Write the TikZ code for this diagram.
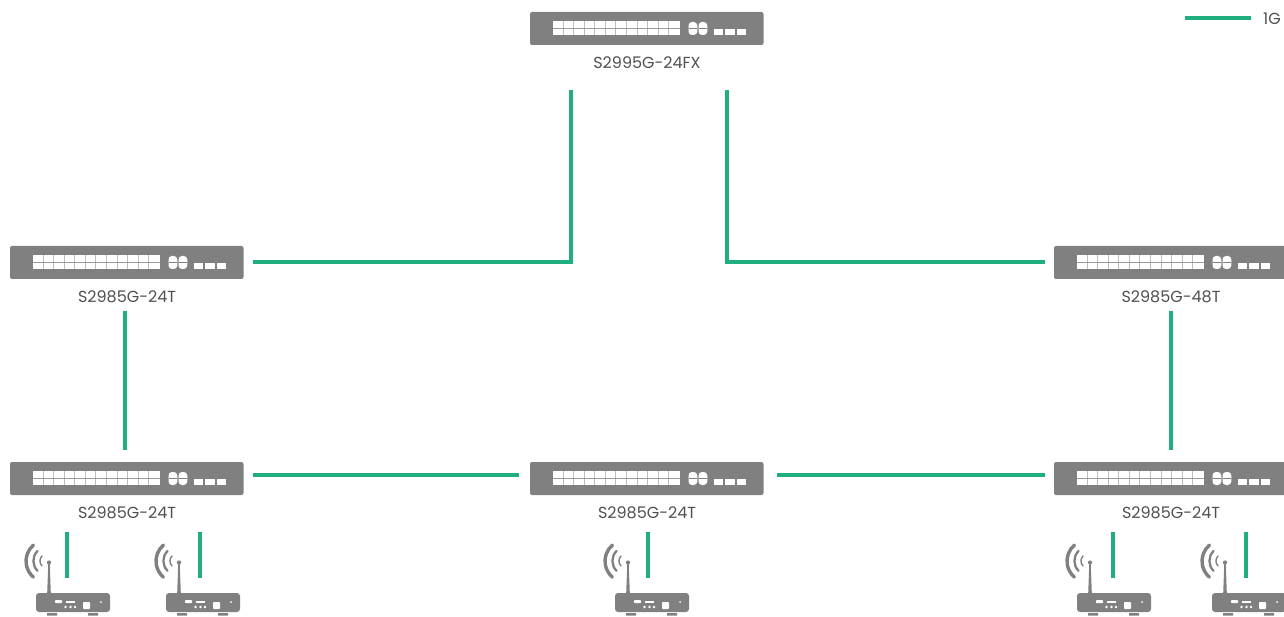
\documentclass[tikz,border=0pt]{standalone}
\usepackage{fontspec}
\setmainfont{Poppins}
\usetikzlibrary{calc}
\definecolor{devgray}{HTML}{808080}
\definecolor{gapgray}{HTML}{BDBDBD}
\definecolor{linkgreen}{HTML}{1FAE7F}
\definecolor{txtgray}{HTML}{505050}
\tikzset{
  x=1pt,y=-1pt,
  link/.style={draw=linkgreen,line width=4pt,line join=miter},
  lbl/.style={text=txtgray,font=\fontsize{16}{18}\selectfont,inner sep=0pt},
  devbody/.style={fill=devgray,draw=none,rounded corners=2pt},
  cell/.style={fill=white,draw=none},
  pics/switchpic/.style={code={
    \node[devbody,anchor=north west,minimum width=233.5pt,minimum height=33pt,inner sep=0pt,outer sep=0pt] (-body) at (0,0) {};
    \fill[cell] (22.5,9) rectangle (149.5,22.7);
    \foreach \c in {1,...,11}{
      \draw[gapgray,line width=1pt] ({22.5+\c*10.58},9) -- ++(0,13.7);
    }
    \draw[devgray!80!white,line width=1pt] (22.5,16.2) -- (149.5,16.2);
    \foreach \c in {158.5,168.5}{
      \fill[cell,rounded corners=3.5pt] (\c,10) rectangle ++(8.8,13);
      \draw[devgray,line width=.7pt] (\c,16.5) -- ++(8.8,0);
    }
    \foreach \c/\w in {183.5/9.5,195/9.5,206.5/9.5}{
      \fill[cell] (\c,17) rectangle ++(\w,6);
    }
    \node[lbl,anchor=center] (-label) at (117,51) {#1};
  }},
  pics/routerpic/.style={code={
    \node[devbody,rounded corners=3pt,anchor=north west,minimum width=74pt,minimum height=19pt,inner sep=0pt,outer sep=0pt] (-body) at (0,0) {};
    \fill[devgray] (11.2,0) -- (12.3,-30) -- (13.7,-30) -- (14.8,0) -- cycle;
    \fill[devgray] (13,-30.5) circle[radius=2.1pt];
    \draw[devgray,line width=3.4pt,line cap=round] (-2.5,-48) arc[start angle=130,end angle=230,radius=21pt];
    \draw[devgray,line width=2.3pt,line cap=round] (1.5,-42) arc[start angle=135,end angle=225,radius=14pt];
    \draw[devgray,line width=1.4pt,line cap=round] (6,-37) arc[start angle=135,end angle=225,radius=7pt];
    \fill[devgray] (11,20) rectangle ++(10,2.5) (52,20) rectangle ++(10,2.5);
    \fill[cell,rounded corners=.8pt] (19,7) rectangle ++(7,3.2);
    \fill[cell] (30,7.8) rectangle ++(9,2.2);
    \foreach \c in {29.5,34.5,39}{\fill[cell] (\c,14) circle[radius=1.4pt];}
    \fill[cell,rounded corners=.8pt] (47,9) rectangle ++(7,7);
    \fill[cell] (65,9) circle[radius=1pt];
  }},
}
\begin{document}
\begin{tikzpicture}
\useasboundingbox (0,0) rectangle (1284,617);
% switches
\pic (top) at (530,12) {switchpic={S2995G-24FX}};
\pic (ml) at (10,246) {switchpic={S2985G-24T}};
\pic (mr) at (1054,246) {switchpic={S2985G-48T}};
\pic (bl) at (10,462) {switchpic={S2985G-24T}};
\pic (bc) at (530,462) {switchpic={S2985G-24T}};
\pic (br) at (1054,462) {switchpic={S2985G-24T}};
% routers
\pic (ra) at (36,593) {routerpic};
\pic (rb) at (166,593) {routerpic};
\pic (rc) at (615,593) {routerpic};
\pic (rd) at (1077,593) {routerpic};
\pic (re) at (1212,593) {routerpic};
% free ends of the connectors
\coordinate (ta) at (571,90);
\coordinate (tb) at (727,90);
\coordinate (mlr) at (253,262);
\coordinate (mrl) at (1045,262);
\coordinate (mlb) at (125,311);
\coordinate (blt) at (125,450);
\coordinate (mrb) at (1171,311);
\coordinate (brt) at (1171,450);
\coordinate (blr) at (253,475);
\coordinate (bcl) at (519,475);
\coordinate (bcr) at (777,475);
\coordinate (brl) at (1045,475);
\coordinate (a1) at (67,532); \coordinate (a2) at (67,578);
\coordinate (b1) at (200,532); \coordinate (b2) at (200,578);
\coordinate (c1) at (648,532); \coordinate (c2) at (648,578);
\coordinate (d1) at (1112.5,532); \coordinate (d2) at (1112.5,578);
\coordinate (e1) at (1245.5,532); \coordinate (e2) at (1245.5,578);
\coordinate (lega) at (1185,18.5);
\coordinate (legb) at (1251,18.5);
% connectors
\draw[link] (ta) |- (mlr);
\draw[link] (tb) |- (mrl);
\draw[link] (mlb) -- (blt);
\draw[link] (mrb) -- (brt);
\draw[link] (blr) -- (bcl);
\draw[link] (bcr) -- (brl);
\draw[link] (a1) -- (a2);
\draw[link] (b1) -- (b2);
\draw[link] (c1) -- (c2);
\draw[link] (d1) -- (d2);
\draw[link] (e1) -- (e2);
% legend
\draw[link] (lega) -- (legb);
\node[lbl,anchor=west] (legend) at (1263,18.5) {1G};
\end{tikzpicture}
\end{document}
